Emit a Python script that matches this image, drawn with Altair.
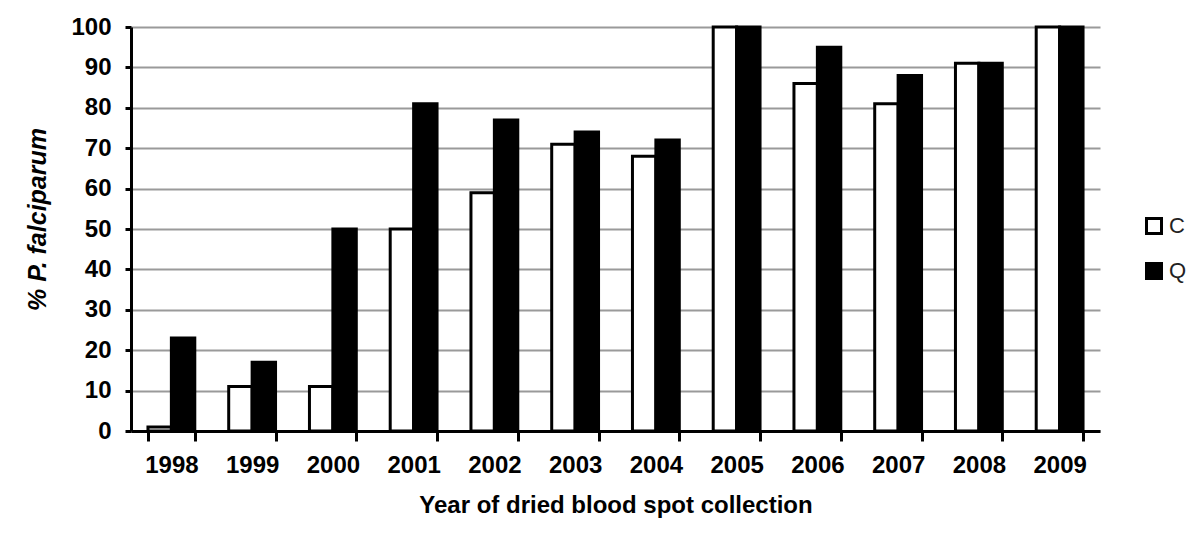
import altair as alt
import pandas as pd

years = ["1998", "1999", "2000", "2001", "2002", "2003", "2004", "2005", "2006", "2007", "2008", "2009"]
c_vals = [1, 11, 11, 50, 59, 71, 68, 100, 86, 81, 91, 100]
q_vals = [23, 17, 50, 81, 77, 74, 72, 100, 95, 88, 91, 100]
series = ["C", "Q"]

rows = []
for y, c, q in zip(years, c_vals, q_vals):
    rows.append({"year": y, "series": "C", "value": c})
    rows.append({"year": y, "series": "Q", "value": q})
df = pd.DataFrame(rows)

FONT = "Liberation Sans"

chart = alt.Chart(df).mark_bar(stroke="black", strokeWidth=3).encode(
    x=alt.X("year:N", sort=years,
            scale=alt.Scale(paddingInner=0.42, paddingOuter=0.21),
            axis=alt.Axis(title="Year of dried blood spot collection", labelAngle=0,
                          tickBand="extent", tickSize=10, tickWidth=3, tickColor="black",
                          domainColor="black", domainWidth=3,
                          labelFont=FONT, labelFontSize=24, labelFontWeight="bold", labelColor="black",
                          labelPadding=12, titleFont=FONT, titleFontSize=24, titleFontWeight="bold",
                          titleColor="black", titlePadding=16)),
    xOffset=alt.XOffset("series:N", sort=series),
    y=alt.Y("value:Q", scale=alt.Scale(domain=[0, 100]),
            axis=alt.Axis(title="% P. falciparum", values=list(range(0, 101, 10)),
                          tickSize=6, tickWidth=3, tickColor="black",
                          domainColor="black", domainWidth=3,
                          grid=True, gridColor="#9a9a9a", gridWidth=2,
                          labelFont=FONT, labelFontSize=24, labelFontWeight="bold", labelColor="black",
                          labelPadding=14, titleFont=FONT, titleFontSize=25, titleFontWeight="bold",
                          titleFontStyle="italic", titleColor="black", titlePadding=20,
                          titleY=192)),
    fill=alt.Fill("series:N", sort=series,
                  scale=alt.Scale(domain=series, range=["white", "black"]),
                  legend=alt.Legend(title=None, orient="none", legendX=1012, legendY=188,
                                    symbolType="square", symbolSize=225,
                                    symbolStrokeColor="black", symbolStrokeWidth=3,
                                    labelFont=FONT, labelFontSize=22, labelColor="#222222",
                                    rowPadding=17, labelOffset=4)),
).properties(
    width=969, height=404,
    autosize=alt.AutoSizeParams(type="none"),
    padding={"left": 123, "top": 19, "right": 92, "bottom": 90},
).configure_view(stroke=None)

chart.save("out.html", embed_options={"renderer": "svg", "actions": False})
